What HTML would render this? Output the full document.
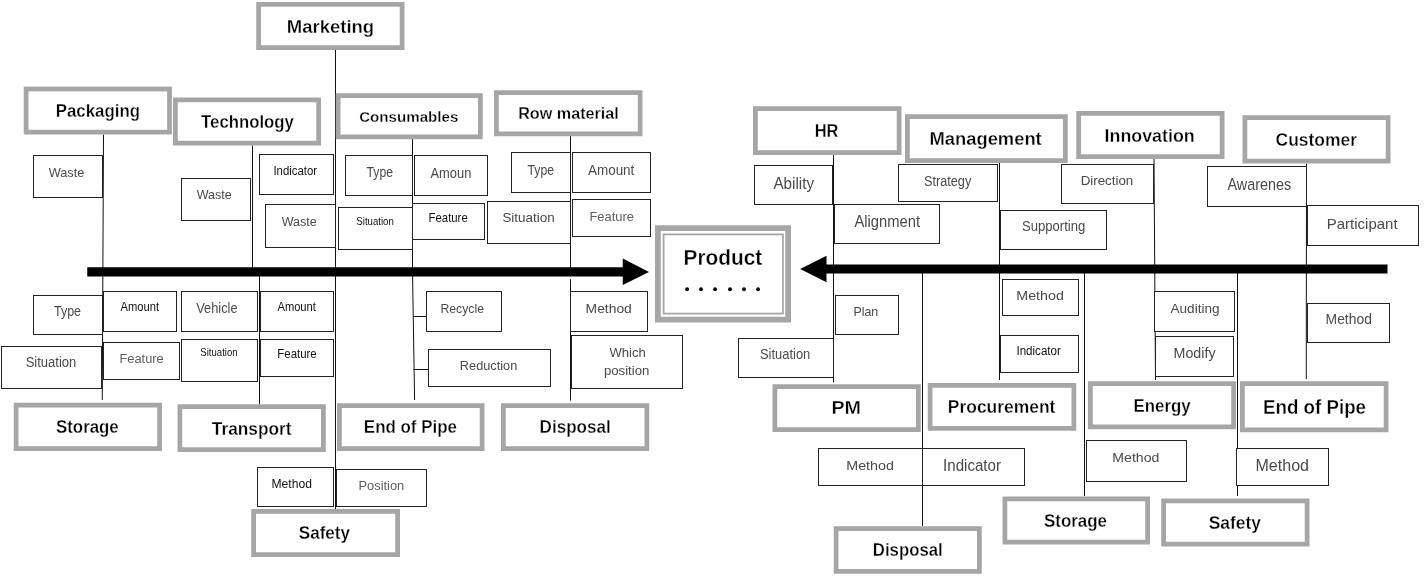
<!DOCTYPE html>
<html><head><meta charset="utf-8"><style>
html,body{margin:0;padding:0;background:#fff;width:1424px;height:576px;overflow:hidden}
svg{display:block;will-change:transform}
text{font-family:"Liberation Sans",sans-serif}
.b{font-weight:bold;stroke:#fff;stroke-width:0.3px}
.r{}
</style></head><body>
<svg width="1424" height="576" viewBox="0 0 1424 576">
<path d="M103.50,134.50 L102.25,400.00" fill="none" stroke="#111" stroke-width="1"/>
<path d="M252.50,145.50 L252.50,272.00" fill="none" stroke="#111" stroke-width="1"/>
<path d="M259.50,272.00 L259.50,404.50" fill="none" stroke="#111" stroke-width="1"/>
<path d="M335.50,50.00 L335.50,509.00" fill="none" stroke="#111" stroke-width="1"/>
<path d="M412.50,139.00 L412.50,272.00 L414.60,400.00" fill="none" stroke="#111" stroke-width="1"/>
<path d="M413.00,316.50 L426.25,316.50" fill="none" stroke="#111" stroke-width="1"/>
<path d="M413.30,369.50 L428.10,369.50" fill="none" stroke="#111" stroke-width="1"/>
<path d="M570.50,136.00 L570.50,272.00" fill="none" stroke="#111" stroke-width="1"/>
<path d="M570.50,279.20 L570.50,400.50" fill="none" stroke="#111" stroke-width="1"/>
<path d="M833.50,155.00 L833.50,382.50" fill="none" stroke="#111" stroke-width="1"/>
<path d="M999.50,163.00 L999.50,380.00" fill="none" stroke="#111" stroke-width="1"/>
<path d="M1154.00,159.00 L1155.50,380.00" fill="none" stroke="#111" stroke-width="1"/>
<path d="M1306.50,163.50 L1306.25,379.00" fill="none" stroke="#111" stroke-width="1"/>
<path d="M922.50,273.00 L922.50,526.00" fill="none" stroke="#111" stroke-width="1"/>
<path d="M1084.50,273.00 L1084.50,496.00" fill="none" stroke="#111" stroke-width="1"/>
<path d="M1237.50,273.00 L1237.50,496.00" fill="none" stroke="#111" stroke-width="1"/>
<rect x="258.62" y="4.38" width="143.50" height="43.25" fill="#fff" stroke="#a6a6a6" stroke-width="4.75"/>
<rect x="26.12" y="88.97" width="143.40" height="43.15" fill="#fff" stroke="#a6a6a6" stroke-width="4.75"/>
<rect x="175.38" y="99.88" width="143.25" height="43.25" fill="#fff" stroke="#a6a6a6" stroke-width="4.75"/>
<rect x="338.12" y="95.62" width="142.25" height="41.25" fill="#fff" stroke="#a6a6a6" stroke-width="4.75"/>
<rect x="496.38" y="92.62" width="143.75" height="41.25" fill="#fff" stroke="#a6a6a6" stroke-width="4.75"/>
<rect x="16.12" y="405.12" width="143.50" height="43.50" fill="#fff" stroke="#a6a6a6" stroke-width="4.75"/>
<rect x="179.88" y="406.62" width="143.50" height="43.00" fill="#fff" stroke="#a6a6a6" stroke-width="4.75"/>
<rect x="339.38" y="405.62" width="142.75" height="43.00" fill="#fff" stroke="#a6a6a6" stroke-width="4.75"/>
<rect x="503.38" y="405.62" width="143.50" height="43.00" fill="#fff" stroke="#a6a6a6" stroke-width="4.75"/>
<rect x="253.62" y="511.38" width="144.00" height="43.25" fill="#fff" stroke="#a6a6a6" stroke-width="4.75"/>
<rect x="755.38" y="108.62" width="143.75" height="44.00" fill="#fff" stroke="#a6a6a6" stroke-width="4.75"/>
<rect x="907.38" y="116.62" width="158.00" height="44.00" fill="#fff" stroke="#a6a6a6" stroke-width="4.75"/>
<rect x="1078.62" y="113.38" width="143.50" height="43.25" fill="#fff" stroke="#a6a6a6" stroke-width="4.75"/>
<rect x="1244.88" y="117.62" width="143.25" height="43.50" fill="#fff" stroke="#a6a6a6" stroke-width="4.75"/>
<rect x="774.88" y="386.62" width="143.50" height="43.00" fill="#fff" stroke="#a6a6a6" stroke-width="4.75"/>
<rect x="930.12" y="385.38" width="143.75" height="43.00" fill="#fff" stroke="#a6a6a6" stroke-width="4.75"/>
<rect x="1090.38" y="383.62" width="143.25" height="43.25" fill="#fff" stroke="#a6a6a6" stroke-width="4.75"/>
<rect x="1242.38" y="383.62" width="143.75" height="46.25" fill="#fff" stroke="#a6a6a6" stroke-width="4.75"/>
<rect x="836.12" y="528.62" width="143.25" height="42.75" fill="#fff" stroke="#a6a6a6" stroke-width="4.75"/>
<rect x="1004.88" y="498.88" width="142.75" height="43.25" fill="#fff" stroke="#a6a6a6" stroke-width="4.75"/>
<rect x="1163.62" y="500.88" width="143.50" height="43.25" fill="#fff" stroke="#a6a6a6" stroke-width="4.75"/>
<rect x="33.50" y="155.50" width="69.00" height="42.00" fill="#fff" stroke="#222" stroke-width="1"/>
<rect x="181.50" y="178.50" width="69.00" height="42.00" fill="#fff" stroke="#222" stroke-width="1"/>
<rect x="259.50" y="154.50" width="74.00" height="40.00" fill="#fff" stroke="#222" stroke-width="1"/>
<rect x="265.50" y="204.50" width="70.00" height="43.00" fill="#fff" stroke="#222" stroke-width="1"/>
<rect x="345.50" y="155.50" width="67.00" height="40.00" fill="#fff" stroke="#222" stroke-width="1"/>
<rect x="414.50" y="155.50" width="73.00" height="40.00" fill="#fff" stroke="#222" stroke-width="1"/>
<rect x="338.50" y="207.50" width="74.00" height="42.00" fill="#fff" stroke="#222" stroke-width="1"/>
<rect x="412.50" y="203.50" width="72.00" height="36.00" fill="#fff" stroke="#222" stroke-width="1"/>
<rect x="511.50" y="152.50" width="59.00" height="40.00" fill="#fff" stroke="#222" stroke-width="1"/>
<rect x="572.50" y="152.50" width="78.00" height="40.00" fill="#fff" stroke="#222" stroke-width="1"/>
<rect x="487.50" y="201.50" width="83.00" height="42.00" fill="#fff" stroke="#222" stroke-width="1"/>
<rect x="572.50" y="199.50" width="78.00" height="37.00" fill="#fff" stroke="#222" stroke-width="1"/>
<rect x="33.50" y="295.50" width="69.00" height="39.00" fill="#fff" stroke="#222" stroke-width="1"/>
<rect x="103.50" y="291.50" width="73.00" height="40.00" fill="#fff" stroke="#222" stroke-width="1"/>
<rect x="181.50" y="291.50" width="76.00" height="40.00" fill="#fff" stroke="#222" stroke-width="1"/>
<rect x="260.50" y="291.50" width="73.00" height="40.00" fill="#fff" stroke="#222" stroke-width="1"/>
<rect x="1.50" y="346.50" width="100.00" height="42.00" fill="#fff" stroke="#222" stroke-width="1"/>
<rect x="103.50" y="342.50" width="76.00" height="37.00" fill="#fff" stroke="#222" stroke-width="1"/>
<rect x="181.50" y="339.50" width="76.00" height="42.00" fill="#fff" stroke="#222" stroke-width="1"/>
<rect x="260.50" y="339.50" width="73.00" height="37.00" fill="#fff" stroke="#222" stroke-width="1"/>
<rect x="257.50" y="467.50" width="76.00" height="39.00" fill="#fff" stroke="#222" stroke-width="1"/>
<rect x="336.50" y="469.50" width="90.00" height="37.00" fill="#fff" stroke="#222" stroke-width="1"/>
<rect x="426.50" y="291.50" width="75.00" height="40.00" fill="#fff" stroke="#222" stroke-width="1"/>
<rect x="428.50" y="349.50" width="122.00" height="37.00" fill="#fff" stroke="#222" stroke-width="1"/>
<rect x="570.50" y="291.50" width="77.00" height="40.00" fill="#fff" stroke="#222" stroke-width="1"/>
<rect x="571.50" y="335.50" width="111.00" height="53.00" fill="#fff" stroke="#222" stroke-width="1"/>
<rect x="754.50" y="165.50" width="78.00" height="39.00" fill="#fff" stroke="#222" stroke-width="1"/>
<rect x="898.50" y="164.50" width="99.00" height="37.00" fill="#fff" stroke="#222" stroke-width="1"/>
<rect x="834.50" y="204.50" width="105.00" height="39.00" fill="#fff" stroke="#222" stroke-width="1"/>
<rect x="1000.50" y="210.50" width="106.00" height="39.00" fill="#fff" stroke="#222" stroke-width="1"/>
<rect x="1061.50" y="164.50" width="92.00" height="39.00" fill="#fff" stroke="#222" stroke-width="1"/>
<rect x="1207.50" y="166.50" width="99.00" height="40.00" fill="#fff" stroke="#222" stroke-width="1"/>
<rect x="1307.50" y="205.50" width="111.00" height="40.00" fill="#fff" stroke="#222" stroke-width="1"/>
<rect x="835.50" y="295.50" width="63.00" height="39.00" fill="#fff" stroke="#222" stroke-width="1"/>
<rect x="738.50" y="338.50" width="95.00" height="39.00" fill="#fff" stroke="#222" stroke-width="1"/>
<rect x="1002.50" y="279.50" width="76.00" height="36.00" fill="#fff" stroke="#222" stroke-width="1"/>
<rect x="1000.50" y="335.50" width="78.00" height="37.00" fill="#fff" stroke="#222" stroke-width="1"/>
<rect x="818.50" y="448.50" width="104.00" height="37.00" fill="#fff" stroke="#222" stroke-width="1"/>
<rect x="922.50" y="448.50" width="102.00" height="37.00" fill="#fff" stroke="#222" stroke-width="1"/>
<rect x="1154.50" y="291.50" width="80.00" height="40.00" fill="#fff" stroke="#222" stroke-width="1"/>
<rect x="1155.50" y="336.50" width="78.00" height="40.00" fill="#fff" stroke="#222" stroke-width="1"/>
<rect x="1307.50" y="303.50" width="82.00" height="39.00" fill="#fff" stroke="#222" stroke-width="1"/>
<rect x="1086.50" y="440.50" width="100.00" height="41.00" fill="#fff" stroke="#222" stroke-width="1"/>
<rect x="1236.50" y="448.50" width="92.00" height="37.00" fill="#fff" stroke="#222" stroke-width="1"/>
<polygon points="87.25,267.25 622.75,267.25 622.75,258.5 649,271.9 622.75,285 622.75,276.5 87.25,276.5" fill="#000"/>
<polygon points="1387.5,264.4 826.5,264.4 826.5,255.8 800.2,268.9 826.5,282.2 826.5,273.4 1387.5,273.4" fill="#000"/>
<rect x="657.875" y="228.125" width="130.25" height="91.5" fill="#fff" stroke="#a6a6a6" stroke-width="5.75"/>
<rect x="663.6" y="234.4" width="119.3" height="79.2" fill="none" stroke="#a6a6a6" stroke-width="1.8"/>
<circle cx="687.1" cy="289.25" r="1.9" fill="#000"/>
<circle cx="701" cy="289.25" r="1.9" fill="#000"/>
<circle cx="715.1" cy="289.25" r="1.9" fill="#000"/>
<circle cx="730" cy="289.25" r="1.9" fill="#000"/>
<circle cx="744" cy="289.25" r="1.9" fill="#000"/>
<circle cx="758.1" cy="289.25" r="1.9" fill="#000"/>
<text transform="translate(286.75,33.25) scale(0.9993,1)" class="b" style="font-size:18.53px;fill:#000">Marketing</text>
<text transform="translate(55.76,116.75) scale(0.9665,1)" class="b" style="font-size:17.44px;fill:#000">Packaging</text>
<text transform="translate(201.08,128.00) scale(0.8868,1)" class="b" style="font-size:18.90px;fill:#000">Technology</text>
<text transform="translate(359.14,121.75) scale(0.9917,1)" class="b" style="font-size:15.26px;fill:#000">Consumables</text>
<text transform="translate(518.16,119.25) scale(0.9895,1)" class="b" style="font-size:16.35px;fill:#000">Row material</text>
<text transform="translate(55.99,433.00) scale(0.9104,1)" class="b" style="font-size:18.53px;fill:#000">Storage</text>
<text transform="translate(211.83,434.75) scale(0.9503,1)" class="b" style="font-size:18.17px;fill:#000">Transport</text>
<text transform="translate(363.86,433.25) scale(0.9326,1)" class="b" style="font-size:18.17px;fill:#000">End of Pipe</text>
<text transform="translate(539.60,433.00) scale(0.9390,1)" class="b" style="font-size:18.17px;fill:#000">Disposal</text>
<text transform="translate(298.74,539.00) scale(0.9236,1)" class="b" style="font-size:18.53px;fill:#000">Safety</text>
<text transform="translate(814.64,137.25) scale(0.8526,1)" class="b" style="font-size:19.26px;fill:#000">HR</text>
<text transform="translate(929.51,145.25) scale(0.9716,1)" class="b" style="font-size:18.90px;fill:#000">Management</text>
<text transform="translate(1104.54,141.75) scale(0.9830,1)" class="b" style="font-size:18.17px;fill:#000">Innovation</text>
<text transform="translate(1275.55,145.75) scale(1.0006,1)" class="b" style="font-size:17.44px;fill:#000">Customer</text>
<text transform="translate(831.42,413.75) scale(1.0867,1)" class="b" style="font-size:18.17px;fill:#000">PM</text>
<text transform="translate(947.82,413.00) scale(0.9607,1)" class="b" style="font-size:18.17px;fill:#000">Procurement</text>
<text transform="translate(1133.62,412.00) scale(0.9249,1)" class="b" style="font-size:18.17px;fill:#000">Energy</text>
<text transform="translate(1262.98,413.75) scale(0.9556,1)" class="b" style="font-size:19.62px;fill:#000">End of Pipe</text>
<text transform="translate(872.87,555.75) scale(0.9219,1)" class="b" style="font-size:18.17px;fill:#000">Disposal</text>
<text transform="translate(1043.99,526.50) scale(0.9324,1)" class="b" style="font-size:18.17px;fill:#000">Storage</text>
<text transform="translate(1208.73,529.00) scale(0.9606,1)" class="b" style="font-size:18.17px;fill:#000">Safety</text>
<text transform="translate(683.60,265.25) scale(0.9383,1)" class="b" style="font-size:22.17px;fill:#000">Product</text>
<text transform="translate(48.69,177.00) scale(0.9738,1)" class="r" style="font-size:13.08px;fill:#4a4a4a">Waste</text>
<text transform="translate(196.69,199.25) scale(0.9340,1)" class="r" style="font-size:13.44px;fill:#4a4a4a">Waste</text>
<text transform="translate(273.45,174.50) scale(0.8965,1)" class="r" style="font-size:12.72px;fill:#111">Indicator</text>
<text transform="translate(281.69,226.25) scale(0.9599,1)" class="r" style="font-size:13.08px;fill:#4a4a4a">Waste</text>
<text transform="translate(366.47,177.00) scale(0.8870,1)" class="r" style="font-size:13.81px;fill:#4a4a4a">Type</text>
<text transform="translate(430.47,177.50) scale(0.9337,1)" class="r" style="font-size:13.81px;fill:#4a4a4a">Amoun</text>
<text transform="translate(356.32,225.25) scale(0.8852,1)" class="r" style="font-size:10.90px;fill:#111">Situation</text>
<text transform="translate(428.56,222.25) scale(0.8940,1)" class="r" style="font-size:12.72px;fill:#111">Feature</text>
<text transform="translate(527.47,174.50) scale(0.8870,1)" class="r" style="font-size:13.81px;fill:#4a4a4a">Type</text>
<text transform="translate(587.97,174.50) scale(0.9751,1)" class="r" style="font-size:13.81px;fill:#4a4a4a">Amount</text>
<text transform="translate(502.39,222.25) scale(1.0307,1)" class="r" style="font-size:13.08px;fill:#4a4a4a">Situation</text>
<text transform="translate(589.43,221.25) scale(0.9633,1)" class="r" style="font-size:13.44px;fill:#606060">Feature</text>
<text transform="translate(53.97,316.25) scale(0.9042,1)" class="r" style="font-size:13.81px;fill:#4a4a4a">Type</text>
<text transform="translate(120.47,311.00) scale(0.9072,1)" class="r" style="font-size:12.35px;fill:#111">Amount</text>
<text transform="translate(196.19,313.25) scale(0.8830,1)" class="r" style="font-size:14.53px;fill:#4a4a4a">Vehicle</text>
<text transform="translate(277.47,311.00) scale(0.9013,1)" class="r" style="font-size:12.35px;fill:#111">Amount</text>
<text transform="translate(25.66,367.00) scale(0.9430,1)" class="r" style="font-size:13.81px;fill:#4a4a4a">Situation</text>
<text transform="translate(119.44,363.25) scale(0.9577,1)" class="r" style="font-size:13.44px;fill:#606060">Feature</text>
<text transform="translate(200.32,356.25) scale(0.8791,1)" class="r" style="font-size:10.90px;fill:#111">Situation</text>
<text transform="translate(277.31,358.25) scale(0.8750,1)" class="r" style="font-size:13.08px;fill:#111">Feature</text>
<text transform="translate(271.50,487.50) scale(0.9832,1)" class="r" style="font-size:12.35px;fill:#111">Method</text>
<text transform="translate(358.44,490.00) scale(0.9857,1)" class="r" style="font-size:13.08px;fill:#606060">Position</text>
<text transform="translate(440.49,313.00) scale(0.9108,1)" class="r" style="font-size:13.44px;fill:#4a4a4a">Recycle</text>
<text transform="translate(459.85,370.00) scale(1.0033,1)" class="r" style="font-size:12.72px;fill:#4a4a4a">Reduction</text>
<text transform="translate(585.61,313.00) scale(1.0317,1)" class="r" style="font-size:13.44px;fill:#4a4a4a">Method</text>
<text transform="translate(609.43,357.00) scale(1.0014,1)" class="r" style="font-size:13.08px;fill:#4a4a4a">Which</text>
<text transform="translate(603.89,374.60) scale(1.1078,1)" class="r" style="font-size:11.93px;fill:#4a4a4a">position</text>
<text transform="translate(773.46,188.50) scale(0.9303,1)" class="r" style="font-size:16.35px;fill:#4a4a4a">Ability</text>
<text transform="translate(923.93,186.00) scale(0.9206,1)" class="r" style="font-size:13.81px;fill:#4a4a4a">Strategy</text>
<text transform="translate(854.46,227.25) scale(0.9447,1)" class="r" style="font-size:15.63px;fill:#4a4a4a">Alignment</text>
<text transform="translate(1021.91,231.25) scale(0.9254,1)" class="r" style="font-size:14.17px;fill:#4a4a4a">Supporting</text>
<text transform="translate(1080.65,185.25) scale(0.9933,1)" class="r" style="font-size:13.44px;fill:#4a4a4a">Direction</text>
<text transform="translate(1227.46,190.00) scale(0.9216,1)" class="r" style="font-size:15.63px;fill:#4a4a4a">Awarenes</text>
<text transform="translate(1326.76,229.00) scale(1.0581,1)" class="r" style="font-size:14.17px;fill:#4a4a4a">Participant</text>
<text transform="translate(853.48,316.25) scale(0.9222,1)" class="r" style="font-size:13.44px;fill:#4a4a4a">Plan</text>
<text transform="translate(759.92,359.25) scale(0.9141,1)" class="r" style="font-size:14.17px;fill:#4a4a4a">Situation</text>
<text transform="translate(1016.32,300.00) scale(1.0609,1)" class="r" style="font-size:13.44px;fill:#4a4a4a">Method</text>
<text transform="translate(1016.43,355.00) scale(0.9123,1)" class="r" style="font-size:12.72px;fill:#111">Indicator</text>
<text transform="translate(846.32,470.00) scale(1.0609,1)" class="r" style="font-size:13.44px;fill:#4a4a4a">Method</text>
<text transform="translate(943.10,471.25) scale(0.9658,1)" class="r" style="font-size:15.63px;fill:#4a4a4a">Indicator</text>
<text transform="translate(1170.47,313.25) scale(1.0116,1)" class="r" style="font-size:13.44px;fill:#4a4a4a">Auditing</text>
<text transform="translate(1173.57,358.25) scale(1.0319,1)" class="r" style="font-size:13.81px;fill:#4a4a4a">Modify</text>
<text transform="translate(1325.61,324.00) scale(1.0046,1)" class="r" style="font-size:13.81px;fill:#4a4a4a">Method</text>
<text transform="translate(1112.34,462.00) scale(1.0492,1)" class="r" style="font-size:13.44px;fill:#4a4a4a">Method</text>
<text transform="translate(1255.42,471.25) scale(1.0282,1)" class="r" style="font-size:15.63px;fill:#4a4a4a">Method</text>
</svg></body></html>
